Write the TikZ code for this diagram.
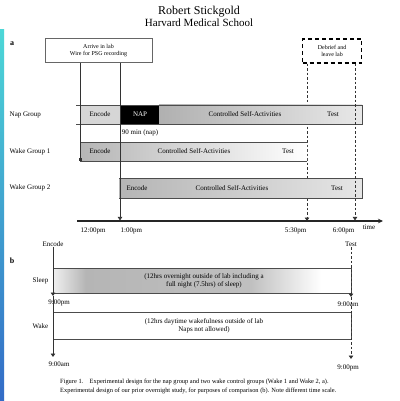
\documentclass[tikz,border=0pt]{standalone}
\usepackage{fontspec}
\setmainfont{Liberation Serif}
\usetikzlibrary{positioning, arrows.meta, shadings}

% sombreamento da barra de sono (parte b)
\pgfdeclarehorizontalshading{sleepshade}{100bp}{color(0bp)=(gray!12); color(25bp)=(gray!12); color(30.5bp)=(gray!58); color(58bp)=(gray!50); color(70bp)=(white); color(100bp)=(white)}

\begin{document}
\begin{tikzpicture}[x=1pt, y=-1pt,
    % Estilos
    lbl/.style={font=\fontsize{7}{8}\selectfont, inner sep=0.5pt},
    boxtxt/.style={font=\fontsize{6}{7}\selectfont, align=center, inner sep=1pt},
    barline/.style={draw=black!70, line width=0.6pt},
    arrowline/.style={draw=black!80, line width=0.8pt, -{Triangle[length=3.5pt, width=4.5pt]}},
    dashline/.style={arrowline, dash pattern=on 2.5pt off 2pt},
    axisline/.style={draw=black!85, line width=1.3pt, -{Stealth[length=5pt, width=4.5pt]}}
]
\useasboundingbox (0,0) rectangle (399,401);
\fill[white] (0,0) rectangle (399,401);
\shade[top color=cyan!55!teal!70, bottom color=blue!45!teal!80] (0,30) rectangle (4,401);

% ==========================
% TITULO
% ==========================
\node[font=\fontsize{12}{13}\selectfont] (title) at (199,12) {Robert Stickgold};
\node[font=\fontsize{11}{12}\selectfont] (inst) at (199,23) {Harvard Medical School};

% ==========================
% PARTE a
% ==========================
\node[font=\bfseries\fontsize{8}{9}\selectfont] (lbla) at (12,44) {a};

\node[draw=black!60, line width=0.6pt, minimum width=107pt, minimum height=24pt, boxtxt] (arrive) at (98.5,50.5) {Arrive in lab\\Wire for PSG recording};
\node[draw, line width=1.4pt, dash pattern=on 4pt off 3pt, minimum width=59pt, minimum height=24pt, boxtxt] (debrief) at (332,51) {Debrief and\\leave lab};

% coordenadas do eixo do tempo
\def\Yax{221}
\coordinate (ax0)   at (77,\Yax);
\coordinate (axend) at (383,\Yax);
\coordinate (t12)   at (80,\Yax);
\coordinate (t1)    at (120,\Yax);
\coordinate (t530)  at (307,\Yax);
\coordinate (t6)    at (355,\Yax);
\coordinate (w1end) at (80,161);

\draw[dashline] (debrief.south -| t530) -- (t530);

% Nap Group
\fill[gray!32] (80,105) rectangle (120,124);
\fill[black] (120,105) rectangle (159,124);
\shade[left color=gray!62, right color=gray!18] (159,105) rectangle (362,124);
\draw[barline] (76,105) -- (362,105) -- (362,124) -- (76,124);
\node[lbl, anchor=west] (napg) at (9,114.5) {Nap Group};
\node[lbl] (nenc) at (100,114.5) {Encode};
\node[lbl, text=white] (nnap) at (140,114.5) {NAP};
\node[lbl] (nctl) at (245,114.5) {Controlled Self-Activities};
\node[lbl] (ntst) at (333,114.5) {Test};
\node[lbl] (nmin) at (140,133) {90 min (nap)};

% Wake Group 1
\shade[left color=gray!58, right color=white] (80,142) rectangle (307,161);
\draw[barline] (80,142) -- (307,142) (80,161) -- (307,161);
\node[lbl, anchor=west] (w1g) at (9,151.5) {Wake Group 1};
\node[lbl] (w1enc) at (100,151.5) {Encode};
\node[lbl] (w1ctl) at (194,151.5) {Controlled Self-Activities};
\node[lbl] (w1tst) at (288,151.5) {Test};

% Wake Group 2
\shade[left color=gray!58, right color=gray!20] (119,178) rectangle (362,198);
\draw[barline] (119,178) -- (362,178) -- (362,198) -- (119,198);
\node[lbl, anchor=west] (w2g) at (9,188) {Wake Group 2};
\node[lbl] (w2enc) at (137,188) {Encode};
\node[lbl] (w2ctl) at (232,188) {Controlled Self-Activities};
\node[lbl] (w2tst) at (337,188) {Test};

% setas verticais
\draw[line width=0.8pt, draw=black!80, -{Square[length=3pt, width=3pt]}] (arrive.south -| t12) -- (w1end);
\draw[arrowline, shorten >=0.6pt] (arrive.south -| t1) -- (t1);
\draw[dashline, shorten >=0.6pt] (debrief.south -| t6) -- (t6);

% eixo do tempo
\draw[axisline] (ax0) -- (axend);
\node[lbl, anchor=north west] (l12)   at (t12)  [yshift=-6pt] {12:00pm};
\node[lbl, anchor=north west] (l1)    at (t1)   [yshift=-6pt] {1:00pm};
\node[lbl, anchor=north east] (l530)  at (t530) [yshift=-6pt] {5:30pm};
\node[lbl, anchor=north east] (l6)    at (t6)   [yshift=-6pt] {6:00pm};
\node[lbl] (ltime) at (369,227) {time};

% ==========================
% PARTE b
% ==========================
\node[font=\bfseries\fontsize{8}{9}\selectfont] (lblb) at (12,261) {b};
\node[lbl] (benc) at (53,244) {Encode};
\node[lbl] (btst) at (351,244) {Test};

\coordinate (slpL) at (53,296);
\coordinate (slpR) at (351,297);
\coordinate (wkL)  at (53,357);
\coordinate (wkR)  at (351,359);

% Sleep
\shade[shading=sleepshade] (53,268) rectangle (351,293);
\draw[barline] (53,268) -- (351,268) -- (351,293) -- (53,293);
\node[lbl, anchor=east] (sleepg) at (49,281) {Sleep};
\node[lbl, align=center] (sleeptxt) at (204,281) {(12hrs overnight outside of lab including a\\full night (7.5hrs) of sleep)};

% Wake
\draw[barline] (53,312) -- (351,312) -- (351,339) -- (53,339);
\node[lbl, anchor=east] (wakeg) at (49,326) {Wake};
\node[lbl, align=center] (waketxt) at (204,326) {(12hrs daytime wakefulness outside of lab\\Naps not allowed)};

\draw[arrowline] (benc.south) -- (slpL);
\draw[arrowline] (slpL) -- (wkL);
\draw[dashline] (btst.south) -- (slpR);
\draw[dashline] (slpR) -- (wkR);

\node[lbl] (s9pm) at (59,303) {9:00pm};
\node[lbl] (s9am) at (348,304) {9:00am};
\node[lbl] (w9am) at (59,364) {9:00am};
\node[lbl] (w9pm) at (348,368) {9:00pm};

% legenda
\node[font=\fontsize{6.4}{9}\selectfont, anchor=north west, align=left, inner sep=0pt] (caption) at (60,379) {Figure 1.\quad Experimental design for the nap group and two wake control groups (Wake 1 and Wake 2, a).\\Experimental design of our prior overnight study, for purposes of comparison (b). Note different time scale.};

\end{tikzpicture}
\end{document}
